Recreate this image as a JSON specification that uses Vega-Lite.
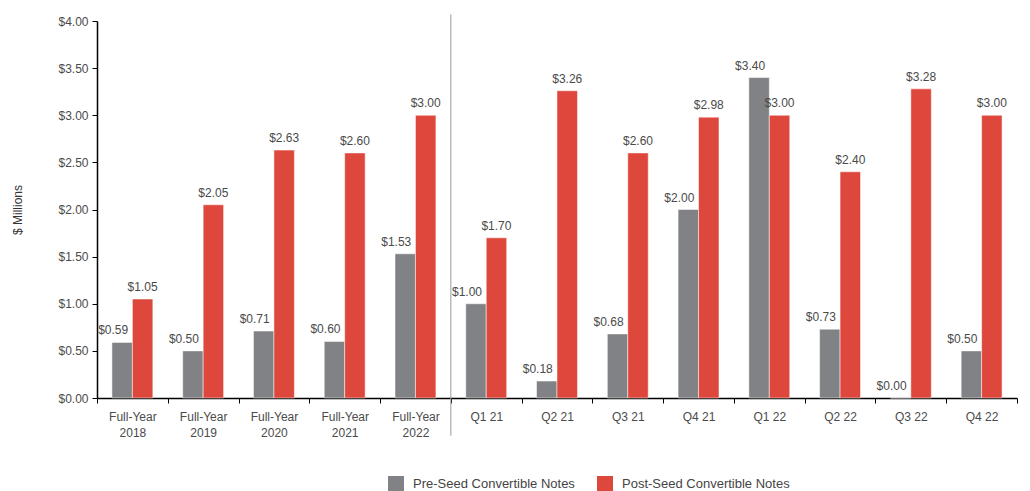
{
  "$schema": "https://vega.github.io/schema/vega-lite/v6.json",
  "autosize": {"type": "none"},
  "width": 920,
  "height": 377,
  "padding": {"left": 97, "top": 21, "right": 13, "bottom": 93},
  "background": "white",
  "config": {
    "view": {"stroke": null},
    "font": "Liberation Sans",
    "text": {"font": "Liberation Sans"}
  },
  "data": {
    "values": [
      {"period": "Full-Year|2018", "type": "Pre-Seed Convertible Notes", "value": 0.59},
      {"period": "Full-Year|2018", "type": "Post-Seed Convertible Notes", "value": 1.05},
      {"period": "Full-Year|2019", "type": "Pre-Seed Convertible Notes", "value": 0.50},
      {"period": "Full-Year|2019", "type": "Post-Seed Convertible Notes", "value": 2.05},
      {"period": "Full-Year|2020", "type": "Pre-Seed Convertible Notes", "value": 0.71},
      {"period": "Full-Year|2020", "type": "Post-Seed Convertible Notes", "value": 2.63},
      {"period": "Full-Year|2021", "type": "Pre-Seed Convertible Notes", "value": 0.60},
      {"period": "Full-Year|2021", "type": "Post-Seed Convertible Notes", "value": 2.60},
      {"period": "Full-Year|2022", "type": "Pre-Seed Convertible Notes", "value": 1.53},
      {"period": "Full-Year|2022", "type": "Post-Seed Convertible Notes", "value": 3.00},
      {"period": "Q1 21", "type": "Pre-Seed Convertible Notes", "value": 1.00},
      {"period": "Q1 21", "type": "Post-Seed Convertible Notes", "value": 1.70},
      {"period": "Q2 21", "type": "Pre-Seed Convertible Notes", "value": 0.18},
      {"period": "Q2 21", "type": "Post-Seed Convertible Notes", "value": 3.26},
      {"period": "Q3 21", "type": "Pre-Seed Convertible Notes", "value": 0.68},
      {"period": "Q3 21", "type": "Post-Seed Convertible Notes", "value": 2.60},
      {"period": "Q4 21", "type": "Pre-Seed Convertible Notes", "value": 2.00},
      {"period": "Q4 21", "type": "Post-Seed Convertible Notes", "value": 2.98},
      {"period": "Q1 22", "type": "Pre-Seed Convertible Notes", "value": 3.40},
      {"period": "Q1 22", "type": "Post-Seed Convertible Notes", "value": 3.00},
      {"period": "Q2 22", "type": "Pre-Seed Convertible Notes", "value": 0.73},
      {"period": "Q2 22", "type": "Post-Seed Convertible Notes", "value": 2.40},
      {"period": "Q3 22", "type": "Pre-Seed Convertible Notes", "value": 0.00},
      {"period": "Q3 22", "type": "Post-Seed Convertible Notes", "value": 3.28},
      {"period": "Q4 22", "type": "Pre-Seed Convertible Notes", "value": 0.50},
      {"period": "Q4 22", "type": "Post-Seed Convertible Notes", "value": 3.00}
    ]
  },
  "layer": [
    {
      "mark": {"type": "bar", "stroke": "white", "strokeWidth": 0.5},
      "encoding": {
        "x": {
          "field": "period",
          "type": "nominal",
          "sort": null,
          "scale": {"paddingInner": 0, "paddingOuter": 0},
          "axis": {
            "title": null,
            "labelAngle": 0,
            "labelExpr": "isValid(datum.value) ? split(datum.value, '|') : ''",
            "labelFontSize": 12,
            "labelColor": "#4a4a4a",
            "labelPadding": 8,
            "labelLineHeight": 16,
            "tickBand": "extent",
            "tickSize": 5,
            "tickColor": "#000000",
            "domainColor": "#000000",
            "domainWidth": 1.5
          }
        },
        "xOffset": {
          "field": "type",
          "type": "nominal",
          "sort": ["Pre-Seed Convertible Notes", "Post-Seed Convertible Notes"],
          "scale": {"paddingInner": 0, "paddingOuter": 0.73}
        },
        "y": {
          "field": "value",
          "type": "quantitative",
          "scale": {"domain": [0, 4], "nice": false},
          "axis": {
            "title": "$ Millions",
            "titleFontSize": 12,
            "titleFontWeight": "normal",
            "titleColor": "#333333",
            "titlePadding": 33,
            "values": [0, 0.5, 1, 1.5, 2, 2.5, 3, 3.5, 4],
            "format": "$.2f",
            "labelFontSize": 12,
            "labelColor": "#4a4a4a",
            "labelPadding": 4,
            "grid": false,
            "tickSize": 5,
            "tickColor": "#000000",
            "domainColor": "#000000",
            "domainWidth": 1.5
          }
        },
        "color": {
          "field": "type",
          "type": "nominal",
          "sort": ["Pre-Seed Convertible Notes", "Post-Seed Convertible Notes"],
          "scale": {
            "domain": ["Pre-Seed Convertible Notes", "Post-Seed Convertible Notes"],
            "range": ["#818285", "#de473b"]
          },
          "legend": {
            "title": null,
            "orient": "none",
            "legendX": 291,
            "legendY": 455,
            "direction": "horizontal",
            "symbolType": "square",
            "symbolSize": 256,
            "symbolStrokeWidth": 0,
            "symbolOpacity": 1,
            "labelFontSize": 13,
            "labelColor": "#444444",
            "labelOffset": 9,
            "labelLimit": 300,
            "columnPadding": 22,
            "padding": 0
          }
        }
      }
    },
    {
      "transform": [{"filter": "datum.type == 'Pre-Seed Convertible Notes'"}],
      "mark": {"type": "text", "baseline": "bottom", "dy": -5, "dx": -9, "fontSize": 12, "color": "#4a4a4a"},
      "encoding": {
        "x": {"field": "period", "type": "nominal", "sort": null},
        "xOffset": {"field": "type", "type": "nominal", "sort": ["Pre-Seed Convertible Notes", "Post-Seed Convertible Notes"]},
        "y": {"field": "value", "type": "quantitative"},
        "text": {"field": "value", "type": "quantitative", "format": "$.2f"}
      }
    },
    {
      "transform": [{"filter": "datum.type == 'Post-Seed Convertible Notes'"}],
      "mark": {"type": "text", "baseline": "bottom", "dy": -5, "fontSize": 12, "color": "#4a4a4a"},
      "encoding": {
        "x": {"field": "period", "type": "nominal", "sort": null},
        "xOffset": {"field": "type", "type": "nominal", "sort": ["Pre-Seed Convertible Notes", "Post-Seed Convertible Notes"]},
        "y": {"field": "value", "type": "quantitative"},
        "text": {"field": "value", "type": "quantitative", "format": "$.2f"}
      }
    },
    {
      "transform": [{"filter": "datum.period == 'Q1 21' && datum.type == 'Pre-Seed Convertible Notes'"}],
      "mark": {"type": "rule", "color": "#9a9a9a", "strokeWidth": 1, "clip": false},
      "encoding": {
        "x": {"field": "period", "type": "nominal", "sort": null, "bandPosition": 0},
        "y": {"datum": 4.07},
        "y2": {"datum": -0.4}
      }
    }
  ]
}
